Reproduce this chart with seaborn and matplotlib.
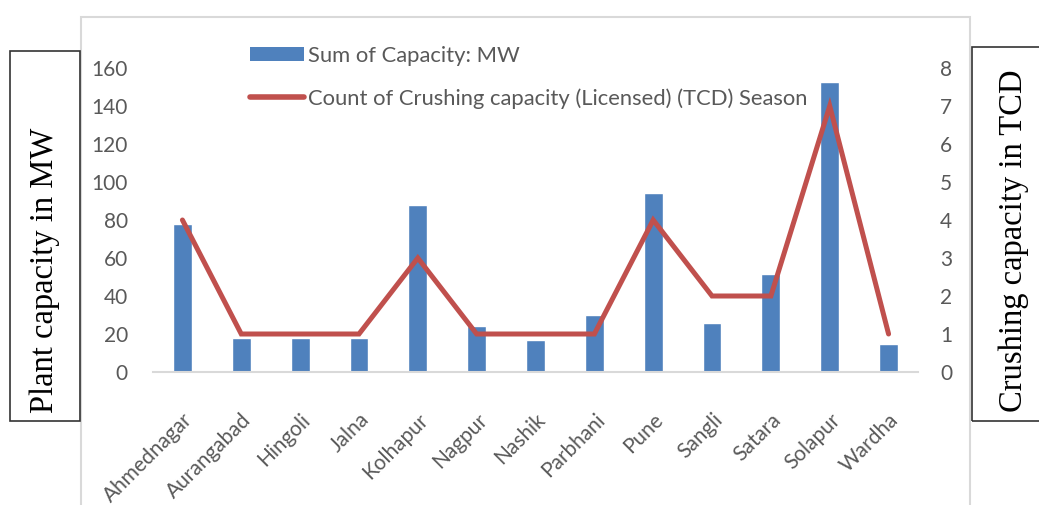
import numpy as np
import pandas as pd
import matplotlib
matplotlib.use("Agg")
import matplotlib.pyplot as plt
import seaborn as sns
from matplotlib.patches import Rectangle
from matplotlib.lines import Line2D
from matplotlib.patches import Patch

# data
districts = ["Ahmednagar", "Aurangabad", "Hingoli", "Jalna", "Kolhapur", "Nagpur",
             "Nashik", "Parbhani", "Pune", "Sangli", "Satara", "Solapur", "Wardha"]
capacity_mw = [78, 18, 18, 18, 88, 24, 17, 30, 94, 26, 51.5, 152.5, 15]
crushing_count = [4, 1, 1, 1, 3, 1, 1, 1, 4, 2, 2, 7, 1]

bar_label = "Sum of Capacity: MW"
line_label = "Count of Crushing capacity (Licensed) (TCD) Season"

df = pd.DataFrame({"district": districts, "mw": capacity_mw, "tcd": crushing_count})

sns.set_style("white")
plt.rcParams['font.family'] = ['Lato', 'DejaVu Sans']

bar_c = "#4F81BD"
line_c = "#C0504D"
txt_c = "#595959"

fig = plt.figure(figsize=(10.39, 5.05), dpi=100)
ax = fig.add_axes([153 / 1039, (505 - 372) / 505, 765 / 1039, 304 / 505])

sns.barplot(data=df, x="district", y="mw", color=bar_c, width=0.32,
            saturation=1, ax=ax)
ax.set_ylim(0, 160)
ax.set_yticks(np.arange(0, 161, 20))
ax.set_xlabel("")
ax.set_ylabel("")

ax2 = ax.twinx()
sns.pointplot(data=df, x="district", y="tcd", color=line_c, markers="",
              linewidth=3.6, ax=ax2)
ax2.lines[0].set_solid_joinstyle("miter")
ax2.set_ylim(0, 8)
ax2.set_yticks(np.arange(0, 9, 1))
ax2.set_xlabel("")
ax2.set_ylabel("")
ax.set_xlim(-0.5, len(districts) - 0.5)

for a in (ax, ax2):
    for s in a.spines.values():
        s.set_visible(False)
    a.tick_params(length=0, labelsize=15, labelcolor=txt_c)
ax.spines["bottom"].set_visible(True)
ax.spines["bottom"].set_color("#D9D9D9")
ax.spines["bottom"].set_linewidth(1.5)
ax.tick_params(axis="y", pad=18)
ax2.tick_params(axis="y", pad=16)

ax.set_xticks(range(len(districts)))
ax.set_xticklabels(districts, rotation=45, ha="right", rotation_mode="anchor",
                   fontsize=15, color=txt_c)
ax.tick_params(axis="x", pad=27)

# legend
handles = [Patch(facecolor=bar_c, edgecolor="none"),
           Line2D([0], [0], color=line_c, lw=4, solid_capstyle="round")]
fig.legend(handles, [bar_label, line_label], loc="upper left",
           bbox_to_anchor=(250 / 1039, 1 - 46 / 505), frameon=False,
           fontsize=15.8, labelcolor=txt_c, handlelength=2.45, handleheight=0.6,
           handletextpad=0.2, labelspacing=1.0, borderpad=0, borderaxespad=0)

# outer chart frame
fig.patches.append(Rectangle((81 / 1039, -0.05), (970 - 81) / 1039, 1.05 - 17 / 505,
                             transform=fig.transFigure, fill=False,
                             edgecolor="#D9D9D9", lw=1.5))

# boxed axis titles
serif = ['Liberation Serif', 'DejaVu Serif']
fig.patches.append(Rectangle((10 / 1039, 1 - 421 / 505), 70 / 1039, 370 / 505,
                             transform=fig.transFigure, fill=False,
                             edgecolor="#333333", lw=1.2))
fig.text(45 / 1039, 1 - 270 / 505, "Plant capacity in MW", rotation=90,
         ha="center", va="center", fontsize=23.5, family=serif, color="black")
fig.patches.append(Rectangle((972 / 1039, 1 - 421 / 505), 100 / 1039, 374 / 505,
                             transform=fig.transFigure, fill=False,
                             edgecolor="#333333", lw=1.2))
fig.text(1014 / 1039, 1 - 241 / 505, "Crushing capacity in TCD", rotation=90,
         ha="center", va="center", fontsize=23.5, family=serif, color="black")

fig.savefig("out.png", dpi=100)
